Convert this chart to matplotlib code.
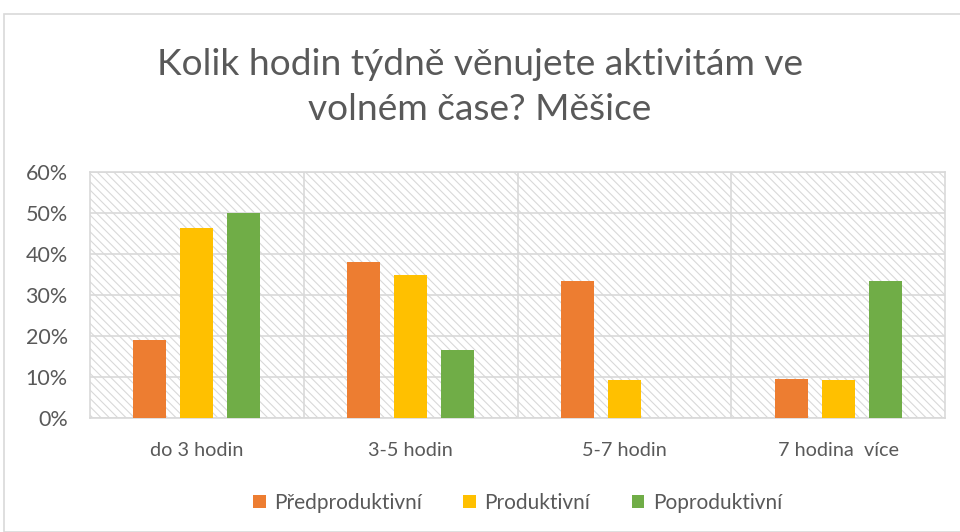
import numpy as np
import matplotlib
matplotlib.use("Agg")
import matplotlib.pyplot as plt
from matplotlib.patches import Rectangle
from matplotlib.ticker import PercentFormatter

plt.rcParams['font.family'] = ['Lato', 'DejaVu Sans']
plt.rcParams['hatch.linewidth'] = 0.8

# data
categories = ['do 3 hodin', '3-5 hodin', '5-7 hodin', '7 hodina  více']
series = ['Předproduktivní', 'Produktivní', 'Poproduktivní']
predproduktivni = [19.0, 38.0, 33.3, 9.5]
produktivni = [46.3, 34.9, 9.3, 9.3]
poproduktivni = [50.0, 16.6, 0.0, 33.3]
colors = ['#ed7d31', '#ffc000', '#70ad47']

TEXT = '#595959'
GRID = '#d9d9d9'

fig = plt.figure(figsize=(9.6, 5.32), dpi=100)
# outer chart border
fig.patches.append(Rectangle((4 / 960, 0), 1.0, 1 - 14 / 532, transform=fig.transFigure,
                             facecolor='none', edgecolor=GRID, linewidth=1.2))

ax = fig.add_axes([90 / 960, 1 - 418 / 532, 855 / 960, 246 / 532])

# hatched plot area
ax.add_patch(Rectangle((0, 0), 1, 1, transform=ax.transAxes, facecolor='white',
                       edgecolor=GRID, hatch='\\\\\\\\', linewidth=0, zorder=0))

x = np.arange(len(categories))
width = 0.154
step = 0.22
for i, (vals, col, name) in enumerate(zip([predproduktivni, produktivni, poproduktivni], colors, series)):
    ax.bar(x + (i - 1) * step, vals, width, color=col, label=name, zorder=3)

ax.set_xlim(-0.5, len(categories) - 0.5)
ax.set_ylim(0, 60)
ax.set_yticks(np.arange(0, 61, 10))
ax.yaxis.set_major_formatter(PercentFormatter(decimals=0))
ax.grid(axis='y', color=GRID, linewidth=1.2, zorder=1)
for b in np.arange(0.5, len(categories) - 0.5, 1):
    ax.axvline(b, color=GRID, linewidth=1.2, zorder=1)
for s in ax.spines.values():
    s.set_color(GRID)
    s.set_linewidth(1.2)

ax.set_xticks(x)
ax.set_xticklabels(categories)
ax.tick_params(axis='both', length=0, colors=TEXT)
ax.tick_params(axis='x', pad=17, labelsize=14.3)
ax.tick_params(axis='y', pad=16, labelsize=15.5)

fig.text(0.5, 1 - 87 / 532, 'Kolik hodin týdně věnujete aktivitám ve\nvolném čase? Měšice',
         ha='center', va='center', fontsize=26.7, color=TEXT, linespacing=1.45)

leg = ax.legend(loc='center', bbox_to_anchor=(0.5, -0.345), ncol=3, frameon=False,
                fontsize=15, handlelength=0.6, handleheight=0.6, columnspacing=2.0,
                handletextpad=0.4, labelcolor=TEXT)

fig.savefig('out.png', dpi=100)
